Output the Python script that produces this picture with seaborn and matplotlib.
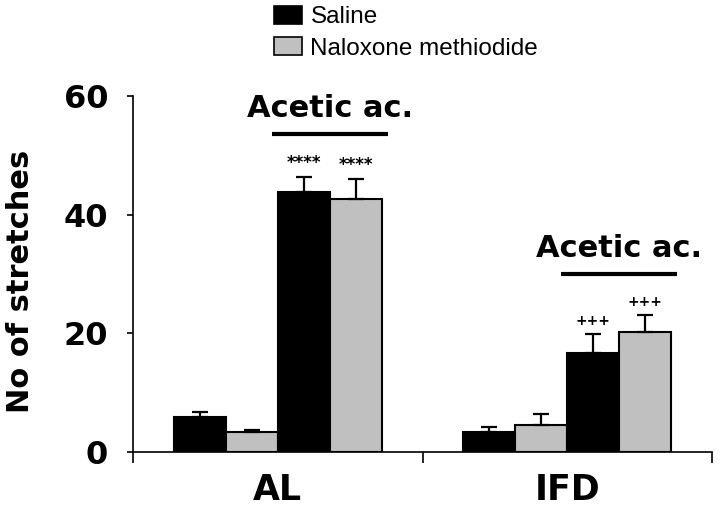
import pandas as pd
import numpy as np
import matplotlib
matplotlib.use("Agg")
import matplotlib.pyplot as plt
import matplotlib.patches as mpatches
import seaborn as sns

###########################
# DATA
###########################
groups = ["AL", "IFD"]
conditions = ["Saline", "Naloxone methiodide",
              "Saline + Acetic ac.", "Naloxone methiodide + Acetic ac."]

saline = [5.9, 3.4]
naloxone = [3.4, 4.5]
saline_aa = [43.8, 16.7]
naloxone_aa = [42.7, 20.2]

saline_err = [0.9, 0.8]
naloxone_err = [0.3, 1.9]
saline_aa_err = [2.6, 3.2]
naloxone_aa_err = [3.3, 2.9]

# significance marks per group, in condition order
sig_marks = {"AL": ["", "", "****", "****"],
             "IFD": ["", "", "+++", "+++"]}
sig_size = {"AL": 12, "IFD": 10}

# "Acetic ac." bracket height per group (data units)
bracket_y = [53.6, 30.0]

means = [saline, naloxone, saline_aa, naloxone_aa]
errs = [saline_err, naloxone_err, saline_aa_err, naloxone_aa_err]

rows = []
for c, m in zip(conditions, means):
    for g, v in zip(groups, m):
        rows.append({"group": g, "condition": c, "value": v})
df = pd.DataFrame(rows)

black = "#000000"
gray = "#c0c0c0"
palette = {conditions[0]: black, conditions[1]: gray,
           conditions[2]: black, conditions[3]: gray}

###########################
# PLOT
###########################
sns.set_style("white")
plt.rcParams["font.family"] = ["DejaVu Sans"]
plt.rcParams["text.color"] = "black"
plt.rcParams["xtick.color"] = "black"
plt.rcParams["ytick.color"] = "black"
plt.rcParams["axes.labelcolor"] = "black"

fig = plt.figure(figsize=(7.2, 5.12), dpi=100)
ax = fig.add_axes([133 / 720, 1 - 452 / 512, 579 / 720, 356 / 512])

sns.barplot(data=df, x="group", y="value", hue="condition",
            order=groups, hue_order=conditions, palette=palette,
            width=0.72, gap=0, saturation=1, errorbar=None, legend=False,
            edgecolor="black", linewidth=1.5, ax=ax)

bar_conts = list(ax.containers)

# one-sided error bars + significance marks
for i, cont in enumerate(bar_conts):
    for j, bar in enumerate(cont):
        xc = bar.get_x() + bar.get_width() / 2
        top = means[i][j] + errs[i][j]
        ax.errorbar(xc, means[i][j], yerr=[[0], [errs[i][j]]], fmt="none",
                    ecolor="black", elinewidth=1.6, capsize=5.5, capthick=1.6,
                    zorder=5)
        mark = sig_marks[groups[j]][i]
        if mark:
            ax.text(xc, top + 1.5, mark, ha="center", va="baseline",
                    fontsize=sig_size[groups[j]], fontweight="bold")

# "Acetic ac." brackets over the last two bars of each group
for j, g in enumerate(groups):
    left = bar_conts[2][j].get_x() - 0.02
    right = bar_conts[3][j].get_x() + bar_conts[3][j].get_width() + 0.02
    ax.plot([left, right], [bracket_y[j], bracket_y[j]], color="black",
            lw=3, solid_capstyle="butt", clip_on=False)
    ax.text((left + right) / 2, bracket_y[j] + 2.8, "Acetic ac.",
            ha="center", va="baseline", fontsize=22, fontweight="bold")

# axes styling
ax.set_ylim(0, 60)
ax.set_xlim(-0.5, 1.5)
ax.set_yticks([0, 20, 40, 60])
ax.set_xticks([0, 1])
ax.set_xticklabels(groups)
ax.set_xticks([-0.5, 0.5, 1.5], minor=True)
ax.tick_params(axis="x", which="major", length=0, pad=15, labelsize=25)
ax.tick_params(axis="x", which="minor", length=8, width=1.2, direction="out",
               color="black", bottom=True)
ax.tick_params(axis="y", length=4, width=1.2, direction="out", color="black",
               pad=14, labelsize=23, left=True)
for lab in ax.get_xticklabels() + ax.get_yticklabels():
    lab.set_fontweight("bold")

sns.despine(ax=ax)
for s in ["left", "bottom"]:
    ax.spines[s].set_color("black")
    ax.spines[s].set_linewidth(1.2)

ax.set_xlabel("")
ax.set_ylabel("No of stretches", fontsize=22, fontweight="bold")
ax.yaxis.set_label_coords(-0.17, 0.48)

# legend
handles = [mpatches.Patch(facecolor=black, edgecolor="black", lw=1.2),
           mpatches.Patch(facecolor=gray, edgecolor="black", lw=1.2)]
fig.legend(handles, ["Saline", "Naloxone methiodide"], loc="upper left",
           bbox_to_anchor=(274 / 720, 1 - 6 / 512), frameon=False,
           prop={"family": "Liberation Sans", "size": 17.5},
           handlelength=1.15, handleheight=0.75, handletextpad=0.35,
           labelspacing=0.36, borderpad=0, borderaxespad=0)

plt.savefig("out.png", dpi=100)
